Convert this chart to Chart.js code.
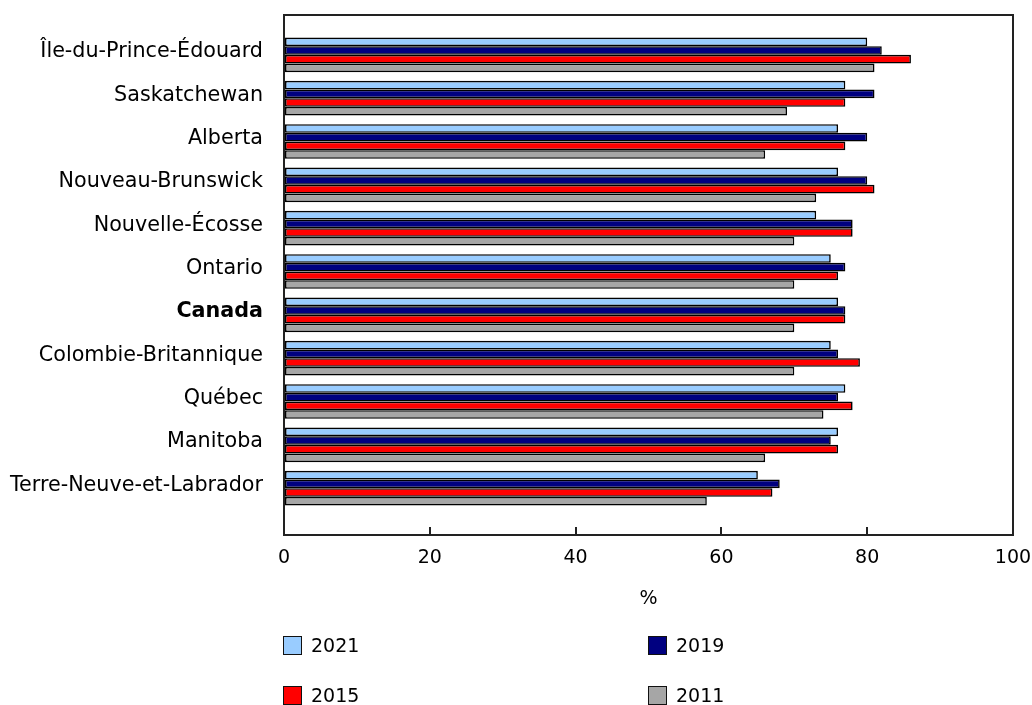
<!DOCTYPE html>
<html lang="fr">
<head>
<meta charset="utf-8">
<title>Graphique</title>
<script src="https://cdn.jsdelivr.net/npm/chart.js"></script>
<style>
  body { margin: 0; background: #fff; font-family: "DejaVu Sans", Verdana, sans-serif; }
  #wrap { position: relative; width: 1032px; height: 705px; }
  .item { position: absolute; display: flex; align-items: center; font-size: 19px; color: #000; line-height: 20px; }
  .boite { width: 17px; height: 17px; border: 1.5px solid #111; margin-right: 9px; }
</style>
</head>
<body>
<div id="wrap">
  <canvas id="graphique"></canvas>
  <div id="legende"></div>
</div>
<script>
// Données (%)
const provinces = [
    'Île-du-Prince-Édouard', 'Saskatchewan', 'Alberta', 'Nouveau-Brunswick',
    'Nouvelle-Écosse', 'Ontario', 'Canada', 'Colombie-Britannique',
    'Québec', 'Manitoba', 'Terre-Neuve-et-Labrador'
];
const annees = ['2021', '2019', '2015', '2011'];
const val2021 = [80, 77, 76, 76, 73, 75, 76, 75, 77, 76, 65];
const val2019 = [82, 81, 80, 80, 78, 77, 77, 76, 76, 75, 68];
const val2015 = [86, 77, 77, 81, 78, 76, 77, 79, 78, 76, 67];
const val2011 = [81, 69, 66, 73, 70, 70, 70, 70, 74, 66, 58];
const ticksX = [0, 20, 40, 60, 80, 100];

const couleurs = ['#99ccff', '#000080', '#ff0000', '#a6a6a6'];
const series = [val2021, val2019, val2015, val2011];

Chart.defaults.font.family = '"DejaVu Sans", Verdana, sans-serif';
Chart.defaults.color = '#000';

// Cadre haut et droite autour de la zone du graphique
const cadre = {
    id: 'cadre',
    afterDraw(chart) {
        const { ctx, chartArea: a } = chart;
        ctx.save();
        ctx.strokeStyle = '#222';
        ctx.lineWidth = 2;
        ctx.beginPath();
        ctx.moveTo(a.left, a.top);
        ctx.lineTo(a.right, a.top);
        ctx.lineTo(a.right, a.bottom);
        ctx.stroke();
        ctx.restore();
    }
};

const ctx = document.getElementById('graphique').getContext('2d');
const graphique = new Chart(ctx, {
    type: 'bar',
    data: {
        datasets: annees.map((an, k) => ({
            label: an,
            data: series[k].map((v, i) => ({ x: v, y: i })),
            backgroundColor: couleurs[k],
            borderColor: '#000',
            borderWidth: 1.6,
            borderSkipped: false,
            categoryPercentage: 0.8,
            barPercentage: 1.0
        }))
    },
    options: {
        indexAxis: 'y',
        responsive: true,
        maintainAspectRatio: false,
        animation: false,
        layout: { padding: { left: 0, top: 15, right: 19, bottom: 90 } },
        plugins: {
            legend: { display: false },
            tooltip: { enabled: false }
        },
        scales: {
            x: {
                min: 0, max: 100,
                afterBuildTicks: ax => { ax.ticks = ticksX.map(v => ({ value: v })); },
                grid: { display: true, drawOnChartArea: false, drawTicks: true, tickLength: -8, color: '#222', lineWidth: 2 },
                border: { display: true, color: '#222', width: 2 },
                ticks: { font: { size: 19 }, padding: 20, maxRotation: 0 },
                title: { display: true, text: '%', font: { size: 19 }, padding: { top: 0, bottom: 5 } },
                afterFit: ax => { ax.height = 80; ax.paddingLeft = 0; ax.paddingRight = 0; }
            },
            y: {
                type: 'linear',
                reverse: true,
                offset: false,
                min: -0.92, max: 11.08,
                afterBuildTicks: ax => { ax.ticks = provinces.map((p, i) => ({ value: i })); },
                grid: { display: true, offset: false, drawOnChartArea: false, drawTicks: false },
                border: { display: true, color: '#222', width: 2 },
                ticks: {
                    autoSkip: false,
                    padding: 21,
                    labelOffset: -3,
                    callback: v => provinces[v],
                    font: c => ({ size: 20.7, weight: provinces[c.tick ? c.tick.value : -1] === 'Canada' ? 'bold' : 'normal' })
                },
                afterFit: ax => { ax.width = 284; ax.paddingTop = 0; ax.paddingBottom = 0; }
            }
        }
    },
    plugins: [cadre]
});

// Légende sur deux colonnes
const legende = document.getElementById('legende');
annees.forEach((an, k) => {
    const item = document.createElement('div');
    item.className = 'item';
    item.style.left = (283 + (k % 2) * 365) + 'px';
    item.style.top = (635 + Math.floor(k / 2) * 50) + 'px';
    item.innerHTML = '<span class="boite" style="background:' + couleurs[k] + '"></span>' + an;
    legende.appendChild(item);
});
</script>
</body>
</html>
